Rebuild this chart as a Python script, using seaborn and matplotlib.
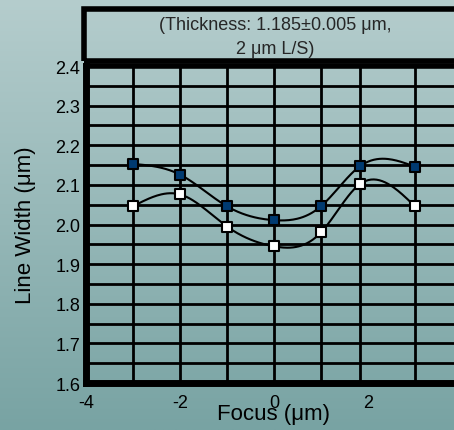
import numpy as np
import pandas as pd
import matplotlib
matplotlib.use('Agg')
import matplotlib.pyplot as plt
from matplotlib.patches import Rectangle
from matplotlib.colors import LinearSegmentedColormap
import seaborn as sns

# data
focus = [-3, -2, -1, 0, 1, 1.83, 3]
width_dark = [2.153, 2.126, 2.046, 2.011, 2.046, 2.147, 2.146]
width_white = [2.046, 2.076, 1.995, 1.945, 1.980, 2.102, 2.046]
y_ticks = [1.6, 1.7, 1.8, 1.9, 2.0, 2.1, 2.2, 2.3, 2.4]
x_ticks = [-4, -2, 0, 2, 4]
title_lines = ["(Thickness: 1.185\u00b10.005 \u03bcm,", "2 \u03bcm L/S)"]


def smooth_curve(x, y, n=200):
    # natural cubic spline through the data points
    x = np.asarray(x, float)
    y = np.asarray(y, float)
    k = len(x)
    h = np.diff(x)
    A = np.zeros((k, k))
    b = np.zeros(k)
    A[0, 0] = A[-1, -1] = 1
    for i in range(1, k - 1):
        A[i, i - 1] = h[i - 1]
        A[i, i] = 2 * (h[i - 1] + h[i])
        A[i, i + 1] = h[i]
        b[i] = 6 * ((y[i + 1] - y[i]) / h[i] - (y[i] - y[i - 1]) / h[i - 1])
    m = np.linalg.solve(A, b)
    xs = np.linspace(x[0], x[-1], n)
    idx = np.clip(np.searchsorted(x, xs) - 1, 0, k - 2)
    x0, x1 = x[idx], x[idx + 1]
    hh = x1 - x0
    t0 = x1 - xs
    t1 = xs - x0
    ys = (m[idx] * t0 ** 3 / (6 * hh) + m[idx + 1] * t1 ** 3 / (6 * hh)
          + (y[idx] / hh - m[idx] * hh / 6) * t0
          + (y[idx + 1] / hh - m[idx + 1] * hh / 6) * t1)
    return xs, ys


sns.set_theme(style="white")
plt.rcParams['font.family'] = ['Liberation Sans', 'DejaVu Sans']

fig = plt.figure(figsize=(4.54, 4.31), dpi=100)

# background gradient
bg = fig.add_axes([0, 0, 1, 1], zorder=-10)
cmap = LinearSegmentedColormap.from_list("bg", ["#b5cdcd", "#78a3a3"])
bg.imshow(np.linspace(0, 1, 256).reshape(-1, 1), aspect='auto', cmap=cmap,
          extent=[0, 1, 0, 1])
bg.axis('off')

ax = fig.add_axes([0.1894, 0.109, 0.828, 0.7355])
ax.patch.set_alpha(0)

# grid: verticals at data positions, horizontals every 0.05
for xv in focus:
    ax.axvline(xv, color='black', lw=2, zorder=1)
for yv in np.arange(1.65, 2.40, 0.05):
    ax.axhline(yv, color='black', lw=2, zorder=1)

df = pd.DataFrame({'focus': focus, 'dark': width_dark, 'white': width_white})
for col in ['dark', 'white']:
    xs, ys = smooth_curve(df['focus'], df[col])
    ax.plot(xs, ys, color='black', lw=1.5, zorder=2)

sns.scatterplot(data=df, x='focus', y='dark', ax=ax, marker='s', s=60,
                color='#003a70', edgecolor='black', linewidth=1.5, zorder=3)
sns.scatterplot(data=df, x='focus', y='white', ax=ax, marker='s', s=60,
                color='white', edgecolor='black', linewidth=1.5, zorder=3)

ax.set_xlim(-4, 4)
ax.set_ylim(1.6, 2.4)
ax.set_xticks(x_ticks)
ax.set_xticklabels([str(t) for t in x_ticks])
ax.set_yticks(y_ticks)
ax.set_yticklabels([f"{t:.1f}" for t in y_ticks])
ax.tick_params(axis='both', length=0, labelsize=13, colors='black')
ax.tick_params(axis='x', pad=8)
ax.tick_params(axis='y', pad=4)
for lbl in ax.get_xticklabels():
    lbl.set_x(lbl.get_position()[0])
    lbl.set_horizontalalignment('center')

for side in ['left', 'bottom']:
    ax.spines[side].set_linewidth(5)
    ax.spines[side].set_color('black')
ax.spines['top'].set_linewidth(4)
ax.spines['top'].set_color('black')
ax.spines['right'].set_visible(False)

ax.set_xlabel("Focus (\u03bcm)", fontsize=16, labelpad=-6, color='black')
ax.set_ylabel("Line Width (\u03bcm)", fontsize=16, labelpad=14, color='black')

# title box above the plot area
box = Rectangle((84 / 454, 1 - 62 / 431), 400 / 454, 52 / 431,
                transform=fig.transFigure, fill=False, edgecolor='black',
                lw=4, zorder=5)
fig.patches.append(box)
fig.text(275 / 454, 1 - 25 / 431, title_lines[0], ha='center', va='center',
         fontsize=13)
fig.text(275 / 454, 1 - 50 / 431, title_lines[1], ha='center', va='center',
         fontsize=13)

fig.savefig("out.png", dpi=100)
